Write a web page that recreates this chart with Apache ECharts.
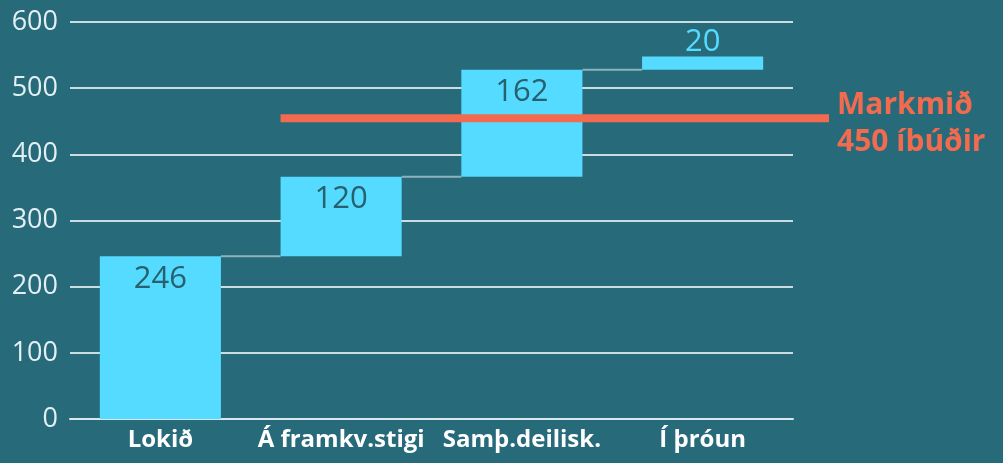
<!DOCTYPE html>
<html><head><meta charset="utf-8">
<script src="https://cdn.jsdelivr.net/npm/echarts@6/dist/echarts.min.js"></script>
<style>html,body{margin:0;padding:0;background:#276a7a;}#c{width:1003px;height:463px;}</style>
</head><body><div id="c"></div>
<script>
const categories = ['Lokið', 'Á framkv.stigi', 'Samþ.deilisk.', 'Í þróun'];
const values = [246, 120, 162, 20];
const targetValue = 450;
const targetLabel = 'Markmið\n450 íbúðir';
const yTicks = [0, 100, 200, 300, 400, 500, 600];

const bases = [];
let run = 0;
values.forEach(v => { bases.push(run); run += v; });
const tops = values.map((v, i) => bases[i] + v);

const BG = '#276a7a', CYAN = '#55dbff', ORANGE = '#f26b4f';
const BAR_RATIO = 0.67;
const FONT = 'Open Sans';

const chart = echarts.init(document.getElementById('c'));
chart.setOption({
  backgroundColor: BG,
  animation: false,
  grid: { left: 70, right: 210, top: 22, bottom: 44, containLabel: false },
  xAxis: {
    type: 'category', data: categories,
    axisLine: { show: true, lineStyle: { color: '#d8e8ec', width: 2 } },
    axisTick: { show: false },
    axisLabel: { interval: 0, color: '#ffffff', fontFamily: FONT, fontWeight: 'bold', fontSize: 24, margin: 9 }
  },
  yAxis: {
    type: 'value', min: yTicks[0], max: yTicks[yTicks.length - 1], interval: 100,
    axisLine: { show: false }, axisTick: { show: false },
    splitLine: { lineStyle: { color: '#c9dde2', width: 2 } },
    axisLabel: { color: '#e3f0f3', fontFamily: FONT, fontSize: 27, margin: 12 }
  },
  series: [
    {
      type: 'bar', stack: 'w', data: bases, barWidth: (BAR_RATIO * 100) + '%',
      itemStyle: { color: 'transparent' }, silent: true
    },
    {
      type: 'bar', stack: 'w', barWidth: (BAR_RATIO * 100) + '%',
      data: values.map((v, i) => ({
        value: v,
        label: i === values.length - 1
          ? { show: true, position: 'top', distance: -1, color: CYAN }
          : { show: true, position: 'insideTop', distance: 7, color: '#27606e' }
      })),
      itemStyle: { color: CYAN },
      label: { show: true, fontFamily: FONT, fontSize: 31 }
    },
    {
      type: 'custom', clip: false, z: 1,
      data: tops.slice(0, -1).map((t, i) => [i, t]),
      renderItem: function (params, api) {
        const i = api.value(0), t = api.value(1);
        const bw = api.size([1, 0])[0];
        const p1 = api.coord([i, t]), p2 = api.coord([i + 1, t]);
        return { type: 'line', shape: { x1: p1[0] + bw * BAR_RATIO / 2, y1: p1[1], x2: p2[0] - bw * BAR_RATIO / 2, y2: p2[1] },
          style: { stroke: '#8fb3bc', lineWidth: 2 } };
      }
    },
    {
      type: 'custom', clip: false, z: 5,
      data: [[1, targetValue]],
      renderItem: function (params, api) {
        const bw = api.size([1, 0])[0];
        const p = api.coord([api.value(0), api.value(1)]);
        const y = p[1] - 3;
        const right = params.coordSys.x + params.coordSys.width;
        return { type: 'group', children: [
          { type: 'line', shape: { x1: p[0] - bw * BAR_RATIO / 2, y1: y, x2: right + 36, y2: y },
            style: { stroke: ORANGE, lineWidth: 8 } },
          { type: 'text', x: right + 44, y: y - 31,
            style: { text: targetLabel, fill: ORANGE, font: 'bold 30px "Open Sans"', lineHeight: 37, textVerticalAlign: 'top' } }
        ]};
      }
    }
  ]
});
</script></body></html>
